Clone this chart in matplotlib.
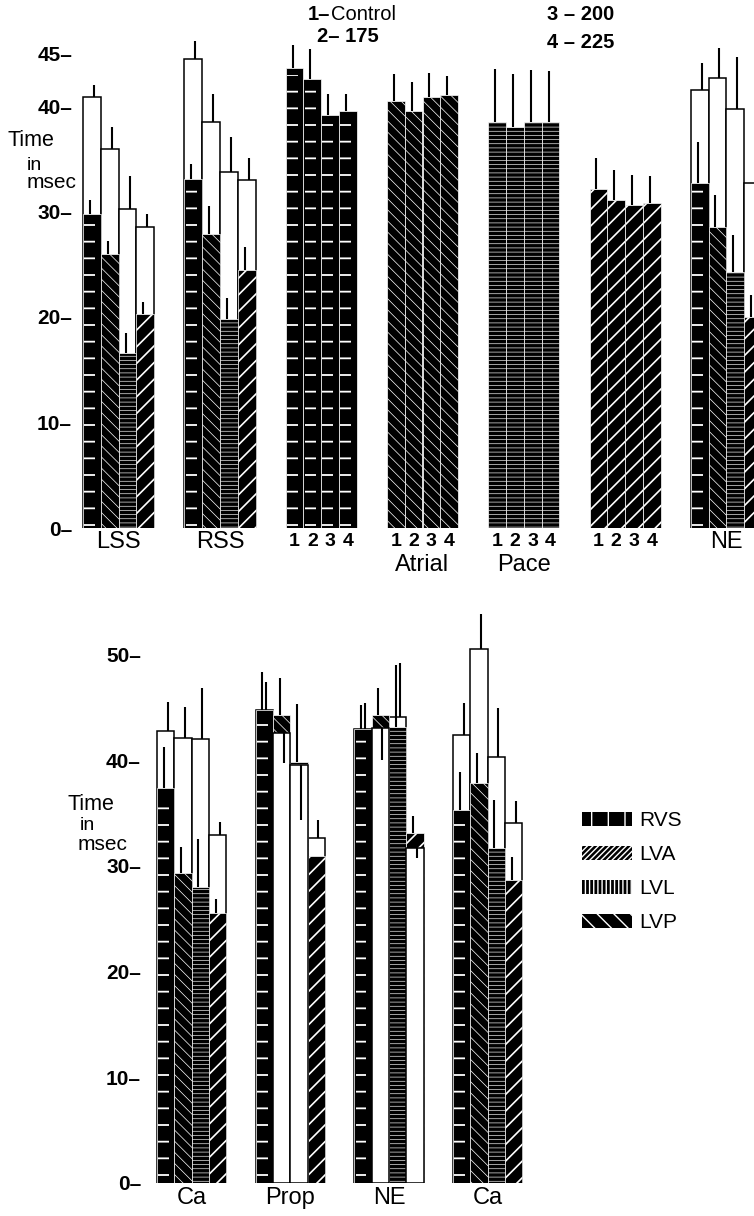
import numpy as np
import matplotlib
matplotlib.use("Agg")
from matplotlib import pyplot as plt
from matplotlib.patches import Patch

plt.rcParams['font.family'] = ['Liberation Sans', 'DejaVu Sans']

# series: RVS, LVA, LVL, LVP
series = ["RVS", "LVA", "LVL", "LVP"]

# top panel
top_groups = ["LSS", "RSS", "", "Atrial", "Pace", "", "NE"]
top_numbered = [False, False, True, True, True, True, False]
top_series = [[0, 1, 2, 3], [0, 1, 2, 3], [0, 0, 0, 0], [1, 1, 1, 1],
              [2, 2, 2, 2], [3, 3, 3, 3], [0, 1, 2, 3]]
top_fill = [[29.8, 26.0, 16.6, 20.3],
            [33.1, 27.9, 19.8, 24.5],
            [43.6, 42.6, 39.1, 39.5],
            [40.5, 39.5, 40.9, 41.0],
            [38.5, 38.0, 38.5, 38.5],
            [32.1, 31.1, 30.6, 30.8],
            [32.7, 28.5, 24.3, 20.0]]
top_fill_err = [[1.3, 1.2, 1.9, 1.1],
                [1.4, 2.6, 2.0, 2.1],
                [2.2, 2.8, 2.0, 1.6],
                [2.5, 2.8, 2.2, 1.8],
                [5.0, 5.0, 4.9, 4.8],
                [3.0, 2.8, 2.9, 2.6],
                [3.9, 3.1, 3.5, 2.1]]
nan = np.nan
top_white = [[40.9, 35.9, 30.2, 28.5],
             [44.5, 38.5, 33.7, 33.0],
             [nan] * 4, [nan] * 4, [nan] * 4, [nan] * 4,
             [41.5, 42.7, 39.7, 32.7]]
top_white_err = [[1.1, 2.1, 3.2, 1.3],
                 [1.7, 2.6, 3.4, 2.1],
                 [nan] * 4, [nan] * 4, [nan] * 4, [nan] * 4,
                 [2.6, 2.8, 4.9, 4.0]]

# bottom panel
bot_groups = ["Ca", "Prop", "NE", "Ca"]
bot_series = [[0, 1, 2, 3]] * 4
bot_fill = [[37.4, 29.3, 28.0, 25.5],
            [44.7, 44.3, 39.8, 30.9],
            [42.9, 44.3, 43.1, 33.1],
            [35.3, 37.8, 31.7, 28.7]]
bot_fill_err = [[3.8, 2.5, 4.5, 1.4],
                [3.6, 3.5, 5.5, 0.0],
                [2.3, 2.5, 5.9, 1.6],
                [3.6, 2.9, 4.5, 2.1]]
bot_white = [[42.7, 42.1, 42.0, 32.9],
             [44.7, 42.6, 39.5, 32.6],
             [42.9, 43.0, 44.1, 31.7],
             [42.4, 50.5, 40.3, 34.0]]
bot_white_err = [[2.8, 2.9, 4.8, 1.2],
                 [2.7, 2.9, 5.2, 1.7],
                 [2.5, 3.0, 5.1, 1.0],
                 [3.0, 3.3, 4.6, 2.1]]

# pattern per series in bars, and (rotated) in the key
bar_hatch = ['-', '\\\\\\', '----', '//']
key_hatch = ['|', '//////', '||||', '\\\\']
hatch_lw = [1.3, 0.5, 0.45, 1.2]

W, H = 754, 1216
fig = plt.figure(figsize=(W / 100, H / 100), dpi=100)


def px(x, y):
    return x / W, 1 - y / H


def set_hlw(patch, lw):
    if hasattr(patch, 'set_hatch_linewidth'):
        patch.set_hatch_linewidth(lw)


def draw_panel(ax, x0, pitch, bw, kinds, fill, fill_err, white, white_err):
    for g in range(len(fill)):
        for b in range(4):
            x = x0 + g * pitch + b * bw + bw / 2
            s = kinds[g][b]
            f, fe = fill[g][b], fill_err[g][b]
            w, we = white[g][b], white_err[g][b]
            has_w = not np.isnan(w)
            front = has_w and w < f
            if s == 0:
                # solid black with short white dashes
                ax.bar(x, f, width=bw, color='black', edgecolor='white',
                       linewidth=0.5, zorder=3)
                dash = ax.bar(x - bw * 0.12, f * 0.985, width=bw * 0.62,
                              facecolor='none', edgecolor='white',
                              hatch=bar_hatch[0], linewidth=0, zorder=3.1)
                set_hlw(dash[0], hatch_lw[0])
            else:
                bars = ax.bar(x, f, width=bw, color='black', edgecolor='white',
                              hatch=bar_hatch[s], linewidth=0.5, zorder=3)
                set_hlw(bars[0], hatch_lw[s])
            if fe > 0:
                ax.vlines(x - 2, f, f + fe, color='black', lw=1.5, zorder=6)
            if has_w:
                ax.bar(x, w, width=bw, facecolor='white', edgecolor='black',
                       linewidth=1.1, zorder=4 if front else 2)
                if front:
                    ax.vlines(x + 2, w - we, w, color='black', lw=1.5, zorder=6)
                else:
                    ax.vlines(x + 2, w, w + we, color='black', lw=1.5, zorder=6)


def style_axes(ax, ticks, fs=15):
    for sp in ax.spines.values():
        sp.set_visible(False)
    ax.set_xticks([])
    ax.set_yticks(ticks)
    ax.set_yticklabels([f"{t}\u2013" for t in ticks], fontweight='bold',
                       fontsize=fs)
    ax.tick_params(axis='y', length=0, pad=0)
    ax.patch.set_alpha(0)


# ---- top panel ----
top_x0, top_pitch, top_bw = 83, 101.3, 17.8
ax1 = fig.add_axes([72 / W, 688 / H, 682 / W, 527.5 / H])
ax1.set_xlim(72, 754)
ax1.set_ylim(0, 50)
draw_panel(ax1, top_x0, top_pitch, top_bw, top_series,
           top_fill, top_fill_err, top_white, top_white_err)
style_axes(ax1, [0, 10, 20, 30, 40, 45])

for g, name in enumerate(top_groups):
    gc = top_x0 + g * top_pitch + 2 * top_bw
    if top_numbered[g]:
        for b in range(4):
            ax1.text(top_x0 + g * top_pitch + b * top_bw + top_bw / 2, -1.3,
                     str(b + 1), ha='center', va='center', fontsize=14,
                     fontweight='bold')
        if name:
            ax1.text(gc, -3.5, name, ha='center', va='center', fontsize=17)
    else:
        ax1.text(gc, -1.35, name, ha='center', va='center', fontsize=17)

fig.text(*px(8, 140), "Time", ha='left', va='center', fontsize=15.5)
fig.text(*px(27, 165), "in", ha='left', va='center', fontsize=14)
fig.text(*px(27, 183), "msec", ha='left', va='center', fontsize=15)

fig.text(*px(308, 15), "1\u2013", ha='left', va='center', fontsize=14.5,
         fontweight='bold')
fig.text(*px(331, 15), "Control", ha='left', va='center', fontsize=14.5)
fig.text(*px(317, 36), "2\u2013 175", ha='left', va='center', fontsize=14.5,
         fontweight='bold')
fig.text(*px(547, 15), "3 \u2013 200", ha='left', va='center', fontsize=14.5,
         fontweight='bold')
fig.text(*px(547, 42), "4 \u2013 225", ha='left', va='center', fontsize=14.5,
         fontweight='bold')

# ---- bottom panel ----
bot_x0, bot_pitch, bot_bw = 157, 98.7, 17.3
ax2 = fig.add_axes([141 / W, 33 / H, 613 / W, 581.6 / H])
ax2.set_xlim(141, 754)
ax2.set_ylim(0, 55)
draw_panel(ax2, bot_x0, bot_pitch, bot_bw, bot_series,
           bot_fill, bot_fill_err, bot_white, bot_white_err)
style_axes(ax2, [0, 10, 20, 30, 40, 50])

for g, name in enumerate(bot_groups):
    gc = bot_x0 + g * bot_pitch + 2 * bot_bw
    ax2.text(gc, -1.45, name, ha='center', va='center', fontsize=17)

fig.text(*px(67, 805), "Time", ha='left', va='center', fontsize=15.5)
fig.text(*px(80, 826), "in", ha='left', va='center', fontsize=14)
fig.text(*px(78, 844), "msec", ha='left', va='center', fontsize=15)

handles = [Patch(facecolor='black', edgecolor='white', hatch=key_hatch[i],
                 linewidth=0) for i in range(4)]
for i, h in enumerate(handles):
    set_hlw(h, hatch_lw[i])
leg = ax2.legend(handles, series, loc='upper left',
                 bbox_to_anchor=px(582, 811), bbox_transform=fig.transFigure,
                 frameon=False, fontsize=15, handlelength=2.4,
                 handleheight=0.68, handletextpad=0.35, labelspacing=0.72,
                 borderpad=0, borderaxespad=0)

fig.savefig("out.png", dpi=100)
